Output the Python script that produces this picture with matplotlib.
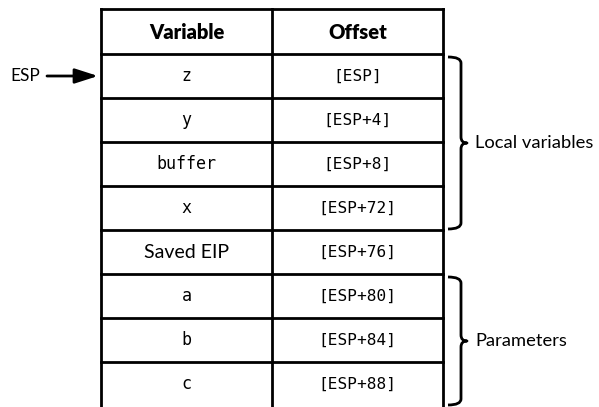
import matplotlib
matplotlib.use("Agg")
import matplotlib.pyplot as plt
from matplotlib.path import Path
from matplotlib.patches import PathPatch, FancyArrowPatch

variables = ["z", "y", "buffer", "x", "Saved EIP", "a", "b", "c"]
offsets = ["[ESP]", "[ESP+4]", "[ESP+8]", "[ESP+72]", "[ESP+76]", "[ESP+80]", "[ESP+84]", "[ESP+88]"]
mono_vars = [True, True, True, True, False, True, True, True]
headers = ["Variable", "Offset"]
groups = [("Local variables", 0, 3), ("Parameters", 5, 7)]
pointer_label = "ESP"
pointer_row = 0

W, H = 599, 407
fig = plt.figure(figsize=(W / 100, H / 100), dpi=100)
ax = fig.add_axes([0, 0, 1, 1])
ax.set_xlim(0, W)
ax.set_ylim(H, 0)
ax.axis("off")

x0, x1, x2 = 101, 272, 443
top, head_bot, row_h = 9, 54, 44
n = len(variables)
bottom = head_bot + n * row_h
lw = 2.0
sans = "Lato"

# outer lines
ax.plot([x0, x2], [top, top], color="black", lw=lw, solid_capstyle="projecting")
for x in (x0, x1, x2):
    ax.plot([x, x], [top, bottom + 5], color="black", lw=lw)
for i in range(n):
    y = head_bot + i * row_h
    ax.plot([x0, x2], [y, y], color="black", lw=lw)

# header
ax.text((x0 + x1) / 2, (top + head_bot) / 2 + 1, headers[0], ha="center", va="center",
        fontsize=14.5, fontweight="heavy", family=sans)
ax.text((x1 + x2) / 2, (top + head_bot) / 2 + 1, headers[1], ha="center", va="center",
        fontsize=14.5, fontweight="heavy", family=sans)

for i, (v, o, m) in enumerate(zip(variables, offsets, mono_vars)):
    yc = head_bot + (i + 0.5) * row_h
    if m:
        ax.text((x0 + x1) / 2, yc, v, ha="center", va="center", fontsize=12,
                family="DejaVu Sans Mono")
    else:
        ax.text((x0 + x1) / 2, yc, v, ha="center", va="center", fontsize=14,
                family=sans)
    ax.text((x1 + x2) / 2, yc, o, ha="center", va="center", fontsize=11.6,
            family="DejaVu Sans Mono")


def brace(y_a, y_b, xs=448, xv=461, xt=467):
    ym = (y_a + y_b) / 2
    r = 6
    verts = [(xs, y_a), (xv, y_a), (xv, y_a + r),
             (xv, ym - r), (xv, ym), (xt, ym),
             (xv, ym), (xv, ym + r),
             (xv, y_b - r), (xv, y_b), (xs, y_b)]
    codes = [Path.MOVETO, Path.CURVE3, Path.CURVE3,
             Path.LINETO, Path.CURVE3, Path.CURVE3,
             Path.CURVE3, Path.CURVE3,
             Path.LINETO, Path.CURVE3, Path.CURVE3]
    ax.add_patch(PathPatch(Path(verts, codes), fill=False, lw=2.0, color="black",
                           capstyle="butt", joinstyle="round"))
    return ym


for label, r0, r1 in groups:
    ya = head_bot + r0 * row_h + 3
    yb = head_bot + (r1 + 1) * row_h - 1
    ym = brace(ya, yb)
    ax.text(475, ym, label, ha="left", va="center", fontsize=13.2, family=sans)

yp = head_bot + (pointer_row + 0.5) * row_h
ax.text(10, yp, pointer_label, ha="left", va="center", fontsize=12.5, family=sans)
ax.add_patch(FancyArrowPatch((47, yp), (98, yp), arrowstyle="-|>,head_length=14,head_width=4.5",
                             mutation_scale=1, lw=2, color="black", shrinkA=0, shrinkB=0))

fig.savefig("out.png", dpi=100)
